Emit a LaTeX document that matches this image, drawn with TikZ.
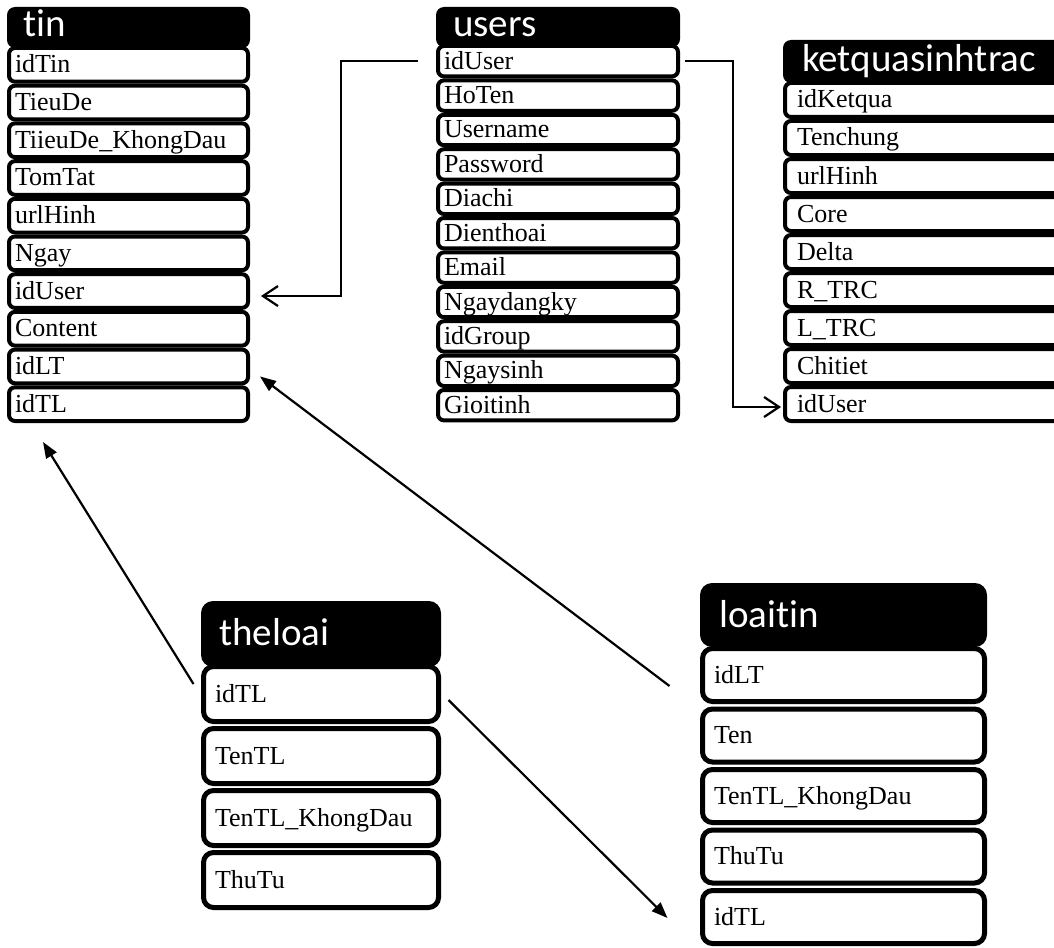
\documentclass[tikz,border=0pt]{standalone}
\usepackage{fontspec}
\setmainfont{Liberation Serif}
\newfontfamily\hdfont[Ligatures=NoCommon]{Carlito}
\usetikzlibrary{arrows.meta}

\begin{document}
\begin{tikzpicture}[x=1pt,y=-1pt,
  fld/.style={draw=black, fill=white, line width=4pt, rounded corners=6pt,
    inner ysep=0pt, outer sep=0pt, align=left, anchor=north west,
    font=\fontsize{26pt}{30pt}\selectfont, text height=20pt, text depth=4pt},
  bigfld/.style={fld, line width=5pt, rounded corners=10pt},
  head/.style={fill=black, rounded corners=8pt, inner sep=0pt, outer sep=0pt,
    anchor=north west},
  bighead/.style={head, rounded corners=12pt},
  title/.style={anchor=base west, inner sep=0pt, text=white,
    font=\hdfont\fontsize{39pt}{41pt}\selectfont},
  link/.style={line width=2.2pt},
  open/.style={link, -{Straight Barb[length=15pt,width=20pt,line width=2.2pt]}},
  solid/.style={link, -{Triangle[length=16pt,width=12pt]}}]

\useasboundingbox (0,0) rectangle (1054,947);

% table tin
\node[head, minimum width=243pt, minimum height=41pt] (tin-h) at (7,7) {};
\node[title] (tin-t) at (23,37) {tin};
\foreach \f [count=\i, evaluate=\i as \yy using 48+(\i-1)*37.7] in
  {idTin,TieuDe,TiieuDe\_KhongDau,TomTat,urlHinh,Ngay,idUser,Content,idLT,idTL}
  \node[fld, minimum width=239pt, minimum height=33.7pt, inner xsep=6pt,
        text width=227pt] (tin-\i) at (9,\yy) {\f};

% table users
\node[head, minimum width=244pt, minimum height=40pt] (users-h) at (436,7) {};
\node[title] (users-t) at (453,37) {users};
\foreach \f [count=\i, evaluate=\i as \yy using 46+(\i-1)*34.4] in
  {idUser,HoTen,Username,Password,Diachi,Dienthoai,Email,Ngaydangky,idGroup,Ngaysinh,Gioitinh}
  \node[fld, minimum width=240pt, minimum height=30.4pt, inner xsep=6pt,
        text width=228pt] (users-\i) at (438,\yy) {\f};

% table ketquasinhtrac
\node[head, minimum width=300pt, minimum height=43pt] (kq-h) at (783,40) {};
\node[title] (kq-t) at (802,72) {ketquasinhtrac};
\foreach \f [count=\i, evaluate=\i as \yy using 83+(\i-1)*38] in
  {idKetqua,Tenchung,urlHinh,Core,Delta,R\_TRC,L\_TRC,Chitiet,idUser}
  \node[fld, minimum width=296pt, minimum height=34pt, inner xsep=12pt,
        text width=272pt] (kq-\i) at (785,\yy) {\f};

% table theloai
\node[bighead, minimum width=240pt, minimum height=66pt] (tl-h) at (201,601) {};
\node[title] (tl-t) at (219,645) {theloai};
\foreach \f [count=\i, evaluate=\i as \yy using 666.5+(\i-1)*62] in
  {idTL,TenTL,TenTL\_KhongDau,ThuTu}
  \node[bigfld, minimum width=235pt, minimum height=55pt, inner xsep=11.5pt,
        text width=212pt] (tl-\i) at (203.5,\yy) {\f};

% table loaitin
\node[bighead, minimum width=287pt, minimum height=64pt] (lt-h) at (700,583) {};
\node[title] (lt-t) at (719,627) {loaitin};
\foreach \f [count=\i, evaluate=\i as \yy using 648.5+(\i-1)*60.5] in
  {idLT,Ten,TenTL\_KhongDau,ThuTu,idTL}
  \node[bigfld, minimum width=282pt, minimum height=53pt, inner xsep=11.5pt,
        text width=259pt] (lt-\i) at (702.5,\yy) {\f};

% relations
\draw[open] ([xshift=-20pt]users-1.west) -- ++(-77,0)
  |- ([xshift=13pt,yshift=-5pt]tin-7.east);
\draw[open] ([xshift=7pt]users-1.east) -- ++(48,0)
  |- ([xshift=-4pt,yshift=-3pt]kq-9.west);
\draw[solid] ([xshift=-10pt,yshift=10pt]tl-1.west)
  -- ([xshift=34pt,yshift=-21pt]tin-10.south west);
\draw[solid] ([xshift=-33pt,yshift=-11pt]lt-1.west)
  -- ([xshift=12pt,yshift=-10pt]tin-9.east);
\draw[solid] ([xshift=10pt,yshift=-6pt]tl-1.east)
  -- ([xshift=-35pt,yshift=-1pt]lt-5.west);
\end{tikzpicture}
\end{document}
